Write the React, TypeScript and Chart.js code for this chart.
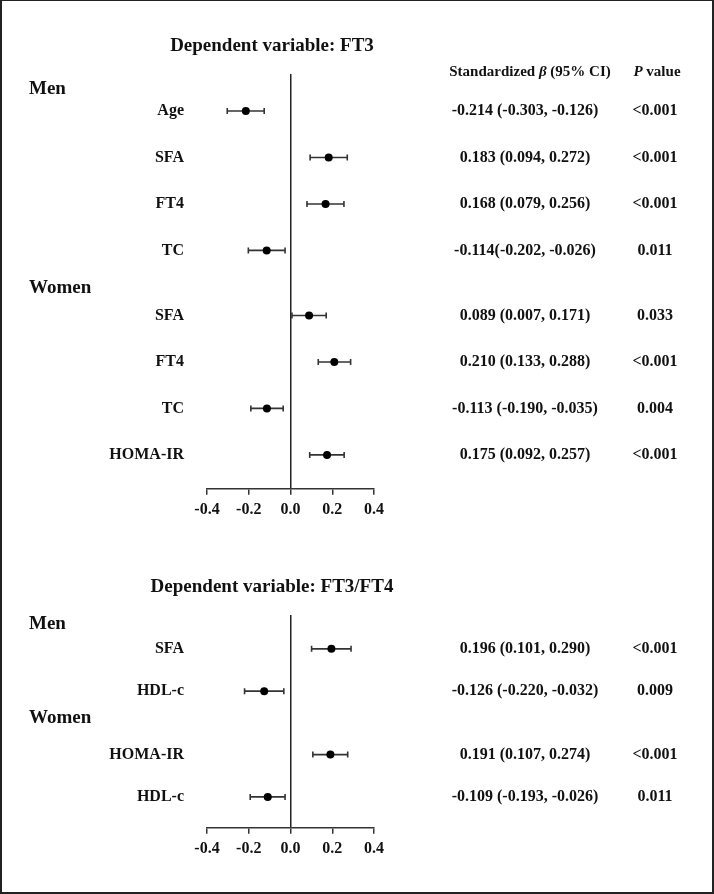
import React, { useEffect, useRef } from "react";
import { Chart, registerables } from "chart.js";

Chart.register(...registerables);

// ---------- data ----------
const groupNames = ["Men", "Women"];
const xTicks = [-0.4, -0.2, 0, 0.2, 0.4];

const ft3Labels = ["Age", "SFA", "FT4", "TC", "SFA", "FT4", "TC", "HOMA-IR"];
const ft3Group = [0, 0, 0, 0, 1, 1, 1, 1];
const ft3Beta = [-0.214, 0.183, 0.168, -0.114, 0.089, 0.21, -0.113, 0.175];
const ft3Lower = [-0.303, 0.094, 0.079, -0.202, 0.007, 0.133, -0.19, 0.092];
const ft3Upper = [-0.126, 0.272, 0.256, -0.026, 0.171, 0.288, -0.035, 0.257];
const ft3CIText = [
  "-0.214 (-0.303, -0.126)",
  "0.183 (0.094, 0.272)",
  "0.168 (0.079, 0.256)",
  "-0.114(-0.202, -0.026)",
  "0.089 (0.007, 0.171)",
  "0.210 (0.133, 0.288)",
  "-0.113 (-0.190, -0.035)",
  "0.175 (0.092, 0.257)",
];
const ft3P = ["<0.001", "<0.001", "<0.001", "0.011", "0.033", "<0.001", "0.004", "<0.001"];

const ratioLabels = ["SFA", "HDL-c", "HOMA-IR", "HDL-c"];
const ratioGroup = [0, 0, 1, 1];
const ratioBeta = [0.196, -0.126, 0.191, -0.109];
const ratioLower = [0.101, -0.22, 0.107, -0.193];
const ratioUpper = [0.29, -0.032, 0.274, -0.026];
const ratioCIText = [
  "0.196 (0.101, 0.290)",
  "-0.126 (-0.220, -0.032)",
  "0.191 (0.107, 0.274)",
  "-0.109 (-0.193, -0.026)",
];
const ratioP = ["<0.001", "0.009", "<0.001", "0.011"];

// ---------- layout / style ----------
const FONT = '"Liberation Serif", "Times New Roman", serif';
const INK = "#111";
const BAR = "#333";
const W = 714;

type Panel = {
  top: number;
  height: number;
  title: string;
  titleY: number;
  showHeader: boolean;
  headerY: number;
  labels: string[];
  group: number[];
  beta: number[];
  lower: number[];
  upper: number[];
  ciText: string[];
  p: string[];
  groupGap: number;
  groupHeaderOffset: number[];
  yMin: number;
  yMax: number;
  padTop: number;
  padBottom: number;
};

const panels: Panel[] = [
  {
    top: 0,
    height: 540,
    title: "Dependent variable: FT3",
    titleY: 46,
    showHeader: true,
    headerY: 72,
    labels: ft3Labels,
    group: ft3Group,
    beta: ft3Beta,
    lower: ft3Lower,
    upper: ft3Upper,
    ciText: ft3CIText,
    p: ft3P,
    groupGap: 0.4,
    groupHeaderOffset: [0.47, 0.59],
    yMin: -0.796,
    yMax: 8.13,
    padTop: 74,
    padBottom: 16,
  },
  {
    top: 550,
    height: 344,
    title: "Dependent variable: FT3/FT4",
    titleY: 37,
    showHeader: false,
    headerY: 0,
    labels: ratioLabels,
    group: ratioGroup,
    beta: ratioBeta,
    lower: ratioLower,
    upper: ratioUpper,
    ciText: ratioCIText,
    p: ratioP,
    groupGap: 0.5,
    groupHeaderOffset: [0.59, 0.86],
    yMin: -0.8,
    yMax: 4.23,
    padTop: 65,
    padBottom: 31,
  },
];

const PLOT_LEFT = 207;
const PLOT_RIGHT = 374;
const LABEL_RIGHT = 184;
const GROUP_X = 29;
const CI_X = 525;
const P_X = 655;

function ForestPanel({ panel }: { panel: Panel }) {
  const ref = useRef<HTMLCanvasElement | null>(null);

  useEffect(() => {
    const canvas = ref.current;
    if (!canvas) return;
    const rowY = panel.labels.map((_, i) => i + panel.group[i] * panel.groupGap);

    const whiskers = panel.labels.map((_, i) => ({
      type: "scatter" as const,
      data: [
        { x: panel.lower[i], y: rowY[i] },
        { x: panel.upper[i], y: rowY[i] },
      ],
      showLine: true,
      borderColor: BAR,
      borderWidth: 1.6,
      pointStyle: "line" as const,
      rotation: 90,
      pointRadius: 3,
      pointBorderColor: BAR,
      pointBorderWidth: 1.6,
      pointBackgroundColor: BAR,
      order: 1,
    }));

    const pointsDs = {
      type: "scatter" as const,
      data: panel.beta.map((b, i) => ({ x: b, y: rowY[i] })),
      pointRadius: 4,
      pointBackgroundColor: "#000",
      pointBorderColor: "#000",
      pointBorderWidth: 0,
      showLine: false,
      order: 0,
    };

    const textPlugin = {
      id: "forestText",
      afterDraw(chart: any) {
        const ctx = chart.ctx as CanvasRenderingContext2D;
        const ys = chart.scales.y;
        ctx.save();
        ctx.fillStyle = INK;
        ctx.textBaseline = "middle";

        // title
        ctx.font = `bold 19px ${FONT}`;
        ctx.textAlign = "center";
        ctx.fillText(panel.title, 272, panel.titleY);

        // column headers
        if (panel.showHeader) {
          ctx.textAlign = "left";
          const parts: [string, string][] = [
            ["Standardized ", `bold 15px ${FONT}`],
            ["β", `italic bold 15px ${FONT}`],
            [" (95% CI)", `bold 15px ${FONT}`],
          ];
          let total = 0;
          parts.forEach(([t, f]) => {
            ctx.font = f;
            total += ctx.measureText(t).width;
          });
          let x = 530 - total / 2;
          parts.forEach(([t, f]) => {
            ctx.font = f;
            ctx.fillText(t, x, panel.headerY);
            x += ctx.measureText(t).width;
          });
          const pparts: [string, string][] = [
            ["P", `italic bold 15px ${FONT}`],
            [" value", `bold 15px ${FONT}`],
          ];
          total = 0;
          pparts.forEach(([t, f]) => {
            ctx.font = f;
            total += ctx.measureText(t).width;
          });
          x = 657 - total / 2;
          pparts.forEach(([t, f]) => {
            ctx.font = f;
            ctx.fillText(t, x, panel.headerY);
            x += ctx.measureText(t).width;
          });
        }

        // group headers
        ctx.font = `bold 19px ${FONT}`;
        ctx.textAlign = "left";
        groupNames.forEach((g, gi) => {
          const first = panel.group.indexOf(gi);
          if (first < 0) return;
          const y = ys.getPixelForValue(rowY[first] - panel.groupHeaderOffset[gi]);
          ctx.fillText(g, GROUP_X, y);
        });

        // row labels & values
        panel.labels.forEach((lab, i) => {
          const y = ys.getPixelForValue(rowY[i]);
          ctx.font = `bold 16px ${FONT}`;
          ctx.textAlign = "right";
          ctx.fillText(lab, LABEL_RIGHT, y);
          ctx.textAlign = "center";
          ctx.fillText(panel.ciText[i], CI_X, y);
          ctx.fillText(panel.p[i], P_X, y);
        });
        ctx.restore();
      },
    };

    const chart = new Chart(canvas, {
      type: "scatter",
      data: { datasets: [pointsDs, ...whiskers] as any },
      options: {
        animation: false,
        responsive: false,
        devicePixelRatio: 1,
        layout: {
          padding: {
            left: PLOT_LEFT,
            right: W - PLOT_RIGHT,
            top: panel.padTop,
            bottom: panel.padBottom,
          },
        },
        plugins: {
          legend: { display: false },
          tooltip: { enabled: false },
          title: { display: false },
        },
        scales: {
          x: {
            type: "linear",
            min: -0.4,
            max: 0.4,
            afterBuildTicks: (scale: any) => {
              scale.ticks = xTicks.map((v) => ({ value: v }));
            },
            ticks: {
              color: INK,
              padding: 5,
              maxRotation: 0,
              autoSkip: false,
              font: { family: FONT, size: 16, weight: "bold" },
              callback: (v: any) => Number(v).toFixed(1),
            },
            grid: {
              display: true,
              drawOnChartArea: true,
              drawTicks: true,
              tickLength: 6,
              tickWidth: 1.5,
              tickColor: BAR,
              lineWidth: 1.5,
              color: (c: any) =>
                c.tick && c.tick.value === 0 ? "#222" : "rgba(0,0,0,0)",
            },
            border: { display: true, color: BAR, width: 1.5 },
          },
          y: {
            type: "linear",
            display: false,
            reverse: true,
            min: panel.yMin,
            max: panel.yMax,
          },
        },
      } as any,
      plugins: [textPlugin],
    });
    return () => chart.destroy();
  }, [panel]);

  return (
    <canvas
      ref={ref}
      width={W}
      height={panel.height}
      style={{
        position: "absolute",
        left: 0,
        top: panel.top,
        width: W,
        height: panel.height,
      }}
    />
  );
}

export default function App() {
  return (
    <div
      style={{
        position: "absolute",
        left: 0,
        top: 0,
        width: W,
        height: 894,
        background: "#fff",
        overflow: "hidden",
      }}
    >
      {panels.map((p, i) => (
        <ForestPanel key={i} panel={p} />
      ))}
      <div
        style={{
          position: "absolute",
          left: 0,
          top: 0,
          width: W,
          height: 894,
          boxSizing: "border-box",
          borderTop: "1.5px solid #222",
          borderLeft: "2px solid #222",
          borderRight: "2px solid #222",
          borderBottom: "2px solid #222",
          pointerEvents: "none",
        }}
      />
    </div>
  );
}
